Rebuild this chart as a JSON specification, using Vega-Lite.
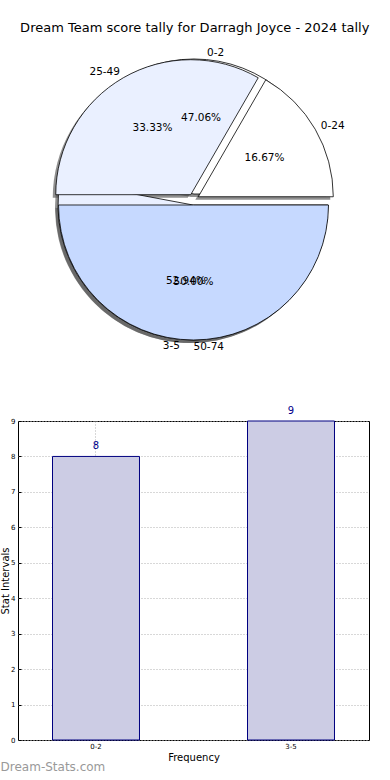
{
  "$schema": "https://vega.github.io/schema/vega-lite/v6.json",
  "background": "white",
  "padding": {"top": 22, "left": 0, "right": 0, "bottom": 0},
  "bounds": "flush",
  "spacing": 73,
  "title": {"text": "Dream Team score tally for Darragh Joyce - 2024 tally", "font": "DejaVu Sans", "fontSize": 13, "fontWeight": "normal", "color": "#000000", "anchor": "middle", "offset": 13, "dx": 10},
  "config": {"font": "DejaVu Sans", "view": {"stroke": null}},
  "datasets": {
    "score": [
      {"label": "0-24", "share": 0.1667, "idx": 1},
      {"label": "25-49", "share": 0.3333, "idx": 2},
      {"label": "50-74", "share": 0.5, "idx": 3}
    ],
    "freq": [
      {"label": "0-2", "count": 8, "share": 0.4706, "idx": 1},
      {"label": "3-5", "count": 9, "share": 0.5294, "idx": 2}
    ]
  },
  "vconcat": [
    {
      "width": 351,
      "height": 297,
      "view": {"stroke": null},
      "layer": [
        {
          "data": {"name": "freq"},
          "transform": [{"stack": "share", "groupby": [], "sort": [{"field": "idx", "order": "descending"}], "as": ["s0", "s1"]}, {"filter": "datum.label === '0-2'"}],
          "mark": {"type": "arc", "radius": 135, "x": 173, "y": 146, "fill": "#555555", "opacity": 0.65},
          "encoding": {"theta": {"field": "s0", "type": "quantitative", "scale": {"domain": [0, 1], "range": [1.5708, 7.854]}}, "theta2": {"field": "s1"}}
        },
        {
          "data": {"name": "freq"},
          "transform": [{"stack": "share", "groupby": [], "sort": [{"field": "idx", "order": "descending"}], "as": ["s0", "s1"]}, {"filter": "datum.label === '3-5'"}],
          "mark": {"type": "arc", "radius": 135, "x": 172, "y": 157, "fill": "#555555", "opacity": 0.65},
          "encoding": {"theta": {"field": "s0", "type": "quantitative", "scale": {"domain": [0, 1], "range": [1.5708, 7.854]}}, "theta2": {"field": "s1"}}
        },
        {
          "data": {"name": "score"},
          "transform": [{"stack": "share", "groupby": [], "sort": [{"field": "idx", "order": "descending"}], "as": ["s0", "s1"]}, {"filter": "datum.label === '0-24'"}],
          "mark": {"type": "arc", "radius": 135, "x": 177.3, "y": 148.75, "fill": "#555555", "opacity": 0.65},
          "encoding": {"theta": {"field": "s0", "type": "quantitative", "scale": {"domain": [0, 1], "range": [1.5708, 7.854]}}, "theta2": {"field": "s1"}}
        },
        {
          "data": {"name": "score"},
          "transform": [{"stack": "share", "groupby": [], "sort": [{"field": "idx", "order": "descending"}], "as": ["s0", "s1"]}, {"filter": "datum.label === '25-49'"}],
          "mark": {"type": "arc", "radius": 135, "x": 169.75, "y": 146.7, "fill": "#555555", "opacity": 0.65},
          "encoding": {"theta": {"field": "s0", "type": "quantitative", "scale": {"domain": [0, 1], "range": [1.5708, 7.854]}}, "theta2": {"field": "s1"}}
        },
        {
          "data": {"name": "score"},
          "transform": [{"stack": "share", "groupby": [], "sort": [{"field": "idx", "order": "descending"}], "as": ["s0", "s1"]}, {"filter": "datum.label === '50-74'"}],
          "mark": {"type": "arc", "radius": 135, "x": 172.5, "y": 157, "fill": "#555555", "opacity": 0.65},
          "encoding": {"theta": {"field": "s0", "type": "quantitative", "scale": {"domain": [0, 1], "range": [1.5708, 7.854]}}, "theta2": {"field": "s1"}}
        },
        {
          "data": {"name": "freq"},
          "transform": [{"stack": "share", "groupby": [], "sort": [{"field": "idx", "order": "descending"}], "as": ["s0", "s1"]}, {"filter": "datum.label === '0-2'"}],
          "mark": {"type": "arc", "radius": 135, "x": 176, "y": 143, "fill": "#ffffff", "stroke": "#000000", "strokeWidth": 0.8},
          "encoding": {"theta": {"field": "s0", "type": "quantitative", "scale": {"domain": [0, 1], "range": [1.5708, 7.854]}}, "theta2": {"field": "s1"}}
        },
        {
          "data": {"name": "freq"},
          "transform": [{"stack": "share", "groupby": [], "sort": [{"field": "idx", "order": "descending"}], "as": ["s0", "s1"]}, {"filter": "datum.label === '3-5'"}],
          "mark": {"type": "arc", "radius": 135, "x": 175, "y": 154, "fill": "#eaf0ff", "stroke": "#000000", "strokeWidth": 0.8},
          "encoding": {"theta": {"field": "s0", "type": "quantitative", "scale": {"domain": [0, 1], "range": [1.5708, 7.854]}}, "theta2": {"field": "s1"}}
        },
        {
          "data": {"name": "score"},
          "transform": [{"stack": "share", "groupby": [], "sort": [{"field": "idx", "order": "descending"}], "as": ["s0", "s1"]}, {"filter": "datum.label === '0-24'"}],
          "mark": {"type": "arc", "radius": 135, "x": 180.3, "y": 145.75, "fill": "#ffffff", "stroke": "#000000", "strokeWidth": 0.8},
          "encoding": {"theta": {"field": "s0", "type": "quantitative", "scale": {"domain": [0, 1], "range": [1.5708, 7.854]}}, "theta2": {"field": "s1"}}
        },
        {
          "data": {"name": "score"},
          "transform": [{"stack": "share", "groupby": [], "sort": [{"field": "idx", "order": "descending"}], "as": ["s0", "s1"]}, {"filter": "datum.label === '25-49'"}],
          "mark": {"type": "arc", "radius": 135, "x": 172.75, "y": 143.7, "fill": "#eaf0ff", "stroke": "#000000", "strokeWidth": 0.8},
          "encoding": {"theta": {"field": "s0", "type": "quantitative", "scale": {"domain": [0, 1], "range": [1.5708, 7.854]}}, "theta2": {"field": "s1"}}
        },
        {
          "data": {"name": "score"},
          "transform": [{"stack": "share", "groupby": [], "sort": [{"field": "idx", "order": "descending"}], "as": ["s0", "s1"]}, {"filter": "datum.label === '50-74'"}],
          "mark": {"type": "arc", "radius": 135, "x": 175.5, "y": 154, "fill": "#c6d9ff", "stroke": "#000000", "strokeWidth": 0.8},
          "encoding": {"theta": {"field": "s0", "type": "quantitative", "scale": {"domain": [0, 1], "range": [1.5708, 7.854]}}, "theta2": {"field": "s1"}}
        },
        {
          "data": {"name": "score"},
          "mark": {"type": "text", "radius": 147, "align": "left", "baseline": "middle", "fontSize": 10.5, "color": "#000000"},
          "encoding": {
            "theta": {"field": "share", "type": "quantitative", "stack": true, "scale": {"domain": [0, 1], "range": [1.5708, 7.854]}},
            "order": {"field": "idx", "sort": "descending"},
            "text": {"condition": {"test": "datum.label === '0-24' || datum.label === '50-74'", "field": "label"}, "value": ""}
          }
        },
        {
          "data": {"name": "score"},
          "mark": {"type": "text", "radius": 147, "align": "right", "baseline": "middle", "fontSize": 10.5, "color": "#000000"},
          "encoding": {
            "theta": {"field": "share", "type": "quantitative", "stack": true, "scale": {"domain": [0, 1], "range": [1.5708, 7.854]}},
            "order": {"field": "idx", "sort": "descending"},
            "text": {"condition": {"test": "datum.label === '25-49'", "field": "label"}, "value": ""}
          }
        },
        {
          "data": {"name": "score"},
          "mark": {"type": "text", "radius": 82, "align": "center", "baseline": "middle", "fontSize": 10.5, "color": "#000000"},
          "encoding": {
            "theta": {"field": "share", "type": "quantitative", "stack": true, "scale": {"domain": [0, 1], "range": [1.5708, 7.854]}},
            "order": {"field": "idx", "sort": "descending"},
            "text": {"field": "share", "type": "quantitative", "format": ".2%"}
          }
        },
        {
          "data": {"name": "freq"},
          "mark": {"type": "text", "radius": 147, "align": "left", "baseline": "middle", "fontSize": 10.5, "color": "#000000"},
          "encoding": {
            "theta": {"field": "share", "type": "quantitative", "stack": true, "scale": {"domain": [0, 1], "range": [1.5708, 7.854]}},
            "order": {"field": "idx", "sort": "descending"},
            "text": {"condition": {"test": "datum.label === '0-2'", "field": "label"}, "value": ""}
          }
        },
        {
          "data": {"name": "freq"},
          "mark": {"type": "text", "radius": 147, "align": "right", "baseline": "middle", "fontSize": 10.5, "color": "#000000"},
          "encoding": {
            "theta": {"field": "share", "type": "quantitative", "stack": true, "scale": {"domain": [0, 1], "range": [1.5708, 7.854]}},
            "order": {"field": "idx", "sort": "descending"},
            "text": {"condition": {"test": "datum.label === '3-5'", "field": "label"}, "value": ""}
          }
        },
        {
          "data": {"name": "freq"},
          "mark": {"type": "text", "radius": 82, "align": "center", "baseline": "middle", "fontSize": 10.5, "color": "#000000"},
          "encoding": {
            "theta": {"field": "share", "type": "quantitative", "stack": true, "scale": {"domain": [0, 1], "range": [1.5708, 7.854]}},
            "order": {"field": "idx", "sort": "descending"},
            "text": {"field": "share", "type": "quantitative", "format": ".2%"}
          }
        }
      ]
    },
    {
      "width": 351,
      "height": 319,
      "view": {"stroke": "#000000", "strokeWidth": 1},
      "data": {"name": "freq"},
      "title": {"text": "Dream-Stats.com", "orient": "bottom", "anchor": "start", "frame": "bounds", "font": "DejaVu Sans", "fontSize": 12, "fontWeight": "normal", "color": "#999999", "offset": 0},
      "encoding": {
        "x": {
          "field": "label", "type": "nominal", "sort": null,
          "scale": {"paddingInner": 0.554, "paddingOuter": 0.177},
          "axis": {"title": "Frequency", "titleFontSize": 10, "titleFontWeight": "normal", "titleColor": "#000000", "titlePadding": 3, "labelFontSize": 7, "labelColor": "#000000", "labelAngle": 0, "labelPadding": 5, "tickSize": -3, "tickColor": "#000000", "domain": false, "grid": true, "gridColor": "#b0b0b0", "gridDash": [1, 2], "bandPosition": 0.5}
        },
        "y": {
          "field": "count", "type": "quantitative",
          "scale": {"domain": [0, 9], "nice": false},
          "axis": {"title": "Stat Intervals", "titleFontSize": 10, "titleFontWeight": "normal", "titleColor": "#000000", "titlePadding": 0, "labelFontSize": 7, "labelColor": "#000000", "labelPadding": 6, "tickSize": -3, "tickColor": "#000000", "domain": false, "grid": true, "gridColor": "#b0b0b0", "gridDash": [1, 2], "values": [0, 1, 2, 3, 4, 5, 6, 7, 8, 9]}
        }
      },
      "layer": [
        {"mark": {"type": "bar", "fill": "#ccccE4", "stroke": "#000080", "strokeWidth": 1}},
        {"mark": {"type": "text", "dy": -10, "fontSize": 10, "color": "#00008b", "baseline": "middle"}, "encoding": {"text": {"field": "count", "type": "quantitative"}}}
      ]
    }
  ]
}
